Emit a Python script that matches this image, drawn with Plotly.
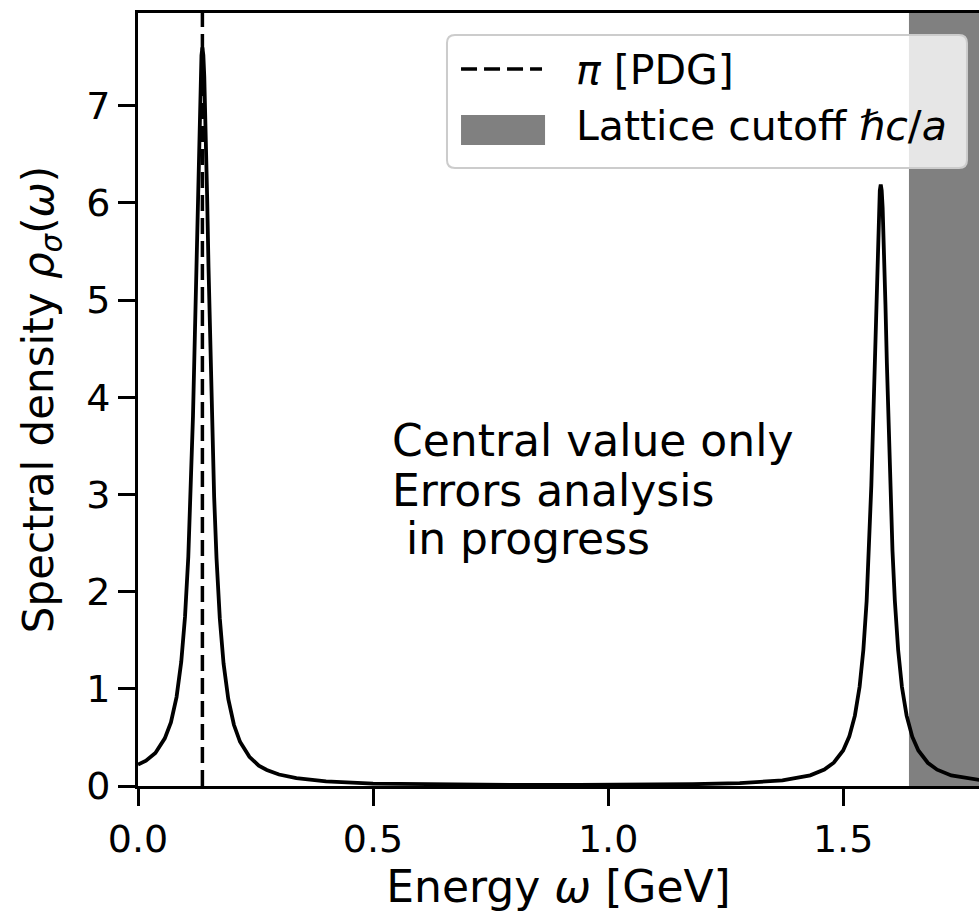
import plotly.graph_objects as go

# Energy grid (GeV) and spectral density values
energy = [0.000, 0.017, 0.037, 0.057, 0.070, 0.082, 0.092, 0.100, 0.107, 0.112,
          0.117, 0.121, 0.124, 0.127, 0.129, 0.131, 0.133, 0.135, 0.137, 0.139,
          0.141, 0.143, 0.145, 0.147, 0.150, 0.153, 0.157, 0.162, 0.167, 0.174,
          0.182, 0.192, 0.204, 0.217, 0.237, 0.257, 0.274, 0.300, 0.337, 0.400,
          0.500, 0.637, 0.800, 0.937, 1.080, 1.180, 1.280, 1.371, 1.430, 1.460,
          1.480, 1.500, 1.513, 1.525, 1.535, 1.543, 1.550, 1.555, 1.560, 1.564,
          1.567, 1.570, 1.572, 1.574, 1.576, 1.578, 1.580, 1.582, 1.584, 1.586,
          1.588, 1.590, 1.593, 1.596, 1.600, 1.605, 1.610, 1.617, 1.625, 1.635,
          1.647, 1.660, 1.680, 1.700, 1.730, 1.789, 1.800]
rho = [0.22, 0.26, 0.34, 0.49, 0.655, 0.915, 1.278, 1.74, 2.357, 2.982,
       3.81, 4.644, 5.35, 6.08, 6.55, 6.97, 7.31, 7.52, 7.60, 7.52,
       7.30, 6.97, 6.55, 6.08, 5.34, 4.64, 3.80, 2.97, 2.345, 1.725,
       1.26, 0.895, 0.63, 0.455, 0.30, 0.21, 0.165, 0.118, 0.08, 0.048,
       0.025, 0.015, 0.011, 0.0107, 0.0133, 0.0182, 0.030, 0.058, 0.11, 0.169,
       0.240, 0.366, 0.508, 0.724, 1.022, 1.401, 1.906, 2.417, 3.096, 3.775,
       4.353, 4.953, 5.337, 5.68, 5.953, 6.13, 6.19, 6.13, 5.953, 5.68,
       5.337, 4.953, 4.353, 3.775, 3.096, 2.417, 1.906, 1.401, 1.022, 0.724,
       0.508, 0.365, 0.239, 0.168, 0.109, 0.057, 0.054]

pion_mass = 0.137        # GeV, PDG pion line
lattice_cutoff = 1.640   # GeV, hbar c / a
x_range = [0.0, 1.789]
y_range = [0.0, 7.955]
x_ticks = [0.0, 0.5, 1.0, 1.5]
y_ticks = [0, 1, 2, 3, 4, 5, 6, 7]
note_lines = ["Central value only", "Errors analysis", "\u00a0in progress"]
note_y = [3.552, 3.037, 2.543]
legend_labels = ["<i>π</i> [PDG]", "Lattice cutoff <i>ℏc</i>/<i>a</i>"]

FONT = "DejaVu Sans"
GREY = "#808080"

fig = go.Figure()
fig.add_trace(go.Scatter(x=energy, y=rho, mode="lines",
                         line=dict(color="black", width=3.8),
                         showlegend=False, hoverinfo="skip"))

# lattice cutoff band and PDG pion line
fig.add_shape(type="rect", xref="x", yref="y domain",
              x0=lattice_cutoff, x1=x_range[1], y0=0, y1=1,
              fillcolor=GREY, line=dict(width=0), layer="below")
fig.add_shape(type="line", xref="x", yref="y domain",
              x0=pion_mass, x1=pion_mass, y0=0, y1=1,
              line=dict(color="black", width=3.5, dash="16px,7px"))

for txt, yy in zip(note_lines, note_y):
    fig.add_annotation(x=0.535, y=yy, xref="x", yref="y", text=txt,
                       showarrow=False, xanchor="left", yanchor="middle",
                       font=dict(family=FONT, size=44, color="black"))

# legend box (matplotlib style, semi-transparent with rounded corners)
x0, x1, y0, y1 = 0.3674, 0.9857, 0.7995, 0.9715
rx, ry = 0.0095, 0.0104
path = (f"M {x0+rx},{y0} L {x1-rx},{y0} Q {x1},{y0} {x1},{y0+ry} "
        f"L {x1},{y1-ry} Q {x1},{y1} {x1-rx},{y1} L {x0+rx},{y1} "
        f"Q {x0},{y1} {x0},{y1-ry} L {x0},{y0+ry} Q {x0},{y0} {x0+rx},{y0} Z")
fig.add_shape(type="path", xref="paper", yref="paper", path=path,
              fillcolor="rgba(255,255,255,0.8)",
              line=dict(color="#cccccc", width=2), layer="above")
fig.add_shape(type="line", xref="paper", yref="paper",
              x0=0.3841, x1=0.4804, y0=0.9276, y1=0.9276,
              line=dict(color="black", width=3.5, dash="16px,7px"), layer="above")
fig.add_shape(type="rect", xref="paper", yref="paper",
              x0=0.3841, x1=0.4840, y0=0.8292, y1=0.8680,
              fillcolor=GREY, line=dict(width=0), layer="above")
for txt, yy in zip(legend_labels, [0.9262, 0.8535]):
    fig.add_annotation(x=0.5185, y=yy, xref="paper", yref="paper", text=txt,
                       showarrow=False, xanchor="left", yanchor="middle",
                       font=dict(family=FONT, size=41, color="black"))

axis_common = dict(showline=True, linecolor="black", linewidth=3,
                   ticks="outside", ticklen=17, tickwidth=3, tickcolor="black",
                   showgrid=False, zeroline=False,
                   tickfont=dict(family=FONT, size=38, color="black"))

fig.update_xaxes(range=x_range, tickvals=x_ticks, tickformat=".1f", mirror=True,
                 title=dict(text="Energy <i>ω</i> [GeV]",
                            font=dict(family=FONT, size=44, color="black"),
                            standoff=10),
                 **axis_common)
fig.update_yaxes(range=y_range, tickvals=y_ticks,
                 title=dict(text="Spectral density <i>ρ<sub>σ</sub></i>(<i>ω</i>)",
                            font=dict(family=FONT, size=42, color="black"),
                            standoff=20),
                 **axis_common)

fig.update_layout(
    width=979, height=915,
    margin=dict(l=138, r=0, t=13, b=129),
    plot_bgcolor="white", paper_bgcolor="white",
    font=dict(family=FONT, color="black"),
    showlegend=False,
)

fig.write_html("out.html")
